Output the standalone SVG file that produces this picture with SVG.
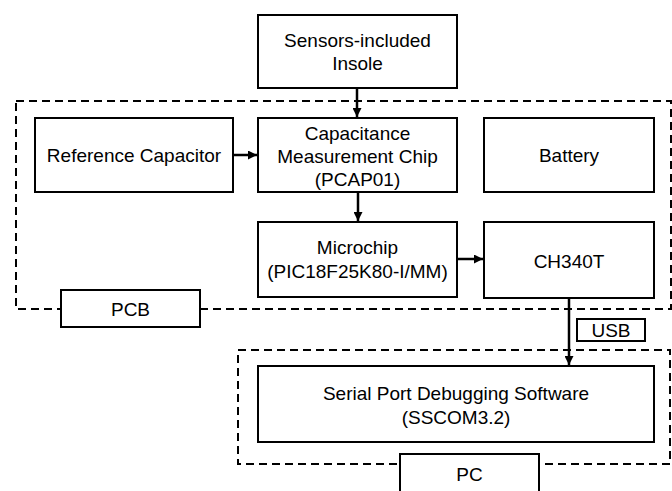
<svg xmlns="http://www.w3.org/2000/svg" width="672" height="491" viewBox="0 0 672 491">
<style>
.box{fill:#fff;stroke:#000;stroke-width:2}
.grp{fill:none;stroke:#000;stroke-width:2;stroke-dasharray:8 5}
.t{font-family:"Liberation Sans",Arial,sans-serif;font-size:19px;fill:#000;text-anchor:middle}
.c{stroke:#000;stroke-width:2.5;fill:none}
</style>
<defs>
<marker id="ah" viewBox="0 0 10 10" refX="10" refY="5" markerWidth="3.6" markerHeight="3.6" orient="auto" markerUnits="strokeWidth">
<path d="M0,0 L10,5 L0,10 z" fill="#000"/>
</marker>
</defs>
<rect width="672" height="491" fill="#fff"/>
<g id="pcb-group">
<rect class="grp" x="16" y="101" width="655" height="208"/>
</g>
<g id="pc-group">
<rect class="grp" x="238" y="350" width="432" height="114"/>
</g>
<g id="sensors">
<rect class="box" x="258" y="15" width="199" height="73"/>
<text class="t" x="357.5" y="47">Sensors-included</text>
<text class="t" x="357.5" y="70">Insole</text>
</g>
<g id="refcap">
<rect class="box" x="35" y="118" width="198" height="74"/>
<text class="t" x="134" y="162">Reference Capacitor</text>
</g>
<g id="capchip">
<rect class="box" x="258" y="118" width="199" height="74"/>
<text class="t" x="357.5" y="140">Capacitance</text>
<text class="t" x="357.5" y="163">Measurement Chip</text>
<text class="t" x="357.5" y="186">(PCAP01)</text>
</g>
<g id="battery">
<rect class="box" x="484" y="118" width="170" height="74"/>
<text class="t" x="569" y="162">Battery</text>
</g>
<g id="microchip">
<rect class="box" x="258" y="222" width="199" height="75"/>
<text class="t" x="357.5" y="254">Microchip</text>
<text class="t" x="357.5" y="278">(PIC18F25K80-I/MM)</text>
</g>
<g id="ch340t">
<rect class="box" x="484" y="222" width="170" height="76"/>
<text class="t" x="569" y="268">CH340T</text>
</g>
<g id="pcb-label">
<rect class="box" x="61" y="290" width="139" height="37"/>
<text class="t" x="130.5" y="316">PCB</text>
</g>
<g id="usb-label">
<rect class="box" x="577" y="319" width="68" height="22"/>
<text class="t" x="611" y="337">USB</text>
</g>
<g id="serial">
<rect class="box" x="258" y="366" width="396" height="76"/>
<text class="t" x="456" y="400">Serial Port Debugging Software</text>
<text class="t" x="456" y="424">(SSCOM3.2)</text>
</g>
<g id="pc-label">
<rect class="box" x="400" y="454" width="139" height="38"/>
<text class="t" x="469.5" y="481">PC</text>
</g>
<g id="connectors">
<line class="c" x1="357" y1="88" x2="357" y2="117" marker-end="url(#ah)"/>
<line class="c" x1="233" y1="155" x2="257" y2="155" marker-end="url(#ah)"/>
<line class="c" x1="358" y1="192" x2="358" y2="221" marker-end="url(#ah)"/>
<line class="c" x1="457" y1="259" x2="483" y2="259" marker-end="url(#ah)"/>
<line class="c" x1="569" y1="298" x2="569" y2="365" marker-end="url(#ah)"/>
</g>
</svg>
